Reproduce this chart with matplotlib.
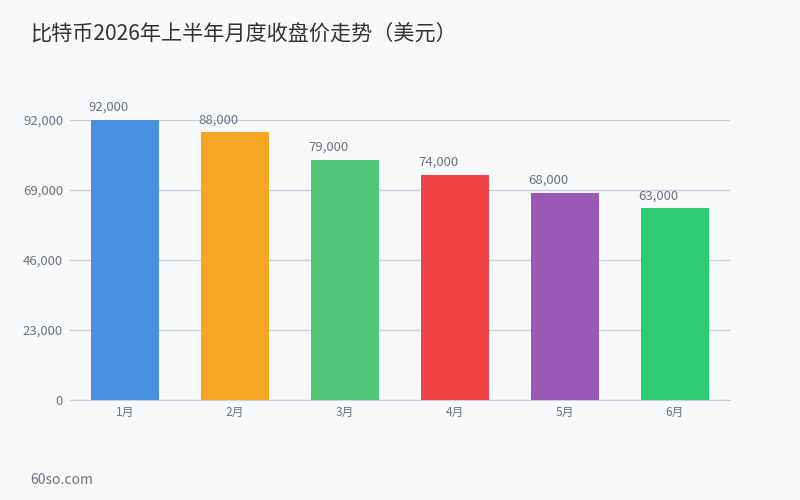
import matplotlib
matplotlib.use("Agg")
import matplotlib.pyplot as plt
from matplotlib.ticker import FixedLocator, FuncFormatter
import matplotlib.transforms as mtrans

plt.rcParams['font.family'] = ['Noto Sans CJK SC', 'DejaVu Sans']

months = ['1月', '2月', '3月', '4月', '5月', '6月']
prices = [92000, 88000, 79000, 74000, 68000, 63000]
colors = ['#4a90e2', '#f5a623', '#50c878', '#f04444', '#9b59b6', '#2ecc71']
yticks = [0, 23000, 46000, 69000, 92000]

bg = '#f8f9fb'
txt = '#6b7285'

fig = plt.figure(figsize=(8, 5), dpi=100, facecolor=bg)
ax = fig.add_axes([0.0875, 0.2, 0.825, 0.56], facecolor=bg)

x = list(range(len(months)))
bars = ax.bar(x, prices, width=0.61, color=colors, zorder=3)
ax.set_xlim(-0.5, len(months) - 0.5)
ax.set_ylim(0, 92000)

ax.yaxis.set_major_locator(FixedLocator(yticks))
ax.yaxis.set_major_formatter(FuncFormatter(lambda v, p: f"{int(v):,}"))
ax.grid(axis='y', color='#c9d1e0', linewidth=1, zorder=0)
ax.set_axisbelow(True)
for s in ['top', 'right', 'left']:
    ax.spines[s].set_visible(False)
ax.spines['bottom'].set_color('#c9d1e0')
ax.tick_params(axis='y', length=0, pad=5, labelsize=9.5, labelcolor=txt)
ax.tick_params(axis='x', length=0, pad=4, labelsize=8.5, labelcolor=txt)
ax.set_xticks(x)
ax.set_xticklabels(months)
for lbl in ax.get_yticklabels():
    lbl.set_clip_on(False)

off = mtrans.offset_copy(ax.transData, fig=fig, x=-3, y=6, units='dots')
for b, v in zip(bars, prices):
    ax.text(b.get_x(), v, f"{v:,}", transform=off, ha='left', va='bottom',
            fontsize=9.5, color=txt, clip_on=False)

fig.text(30 / 800, 1 - 34 / 500, '比特币2026年上半年月度收盘价走势（美元）',
         fontsize=15.2, color='#333333', ha='left', va='center')
fig.text(30 / 800, 1 - 480 / 500, '60so.com', fontsize=10, color=txt,
         ha='left', va='center')

fig.savefig('out.png', dpi=100, facecolor=bg)
